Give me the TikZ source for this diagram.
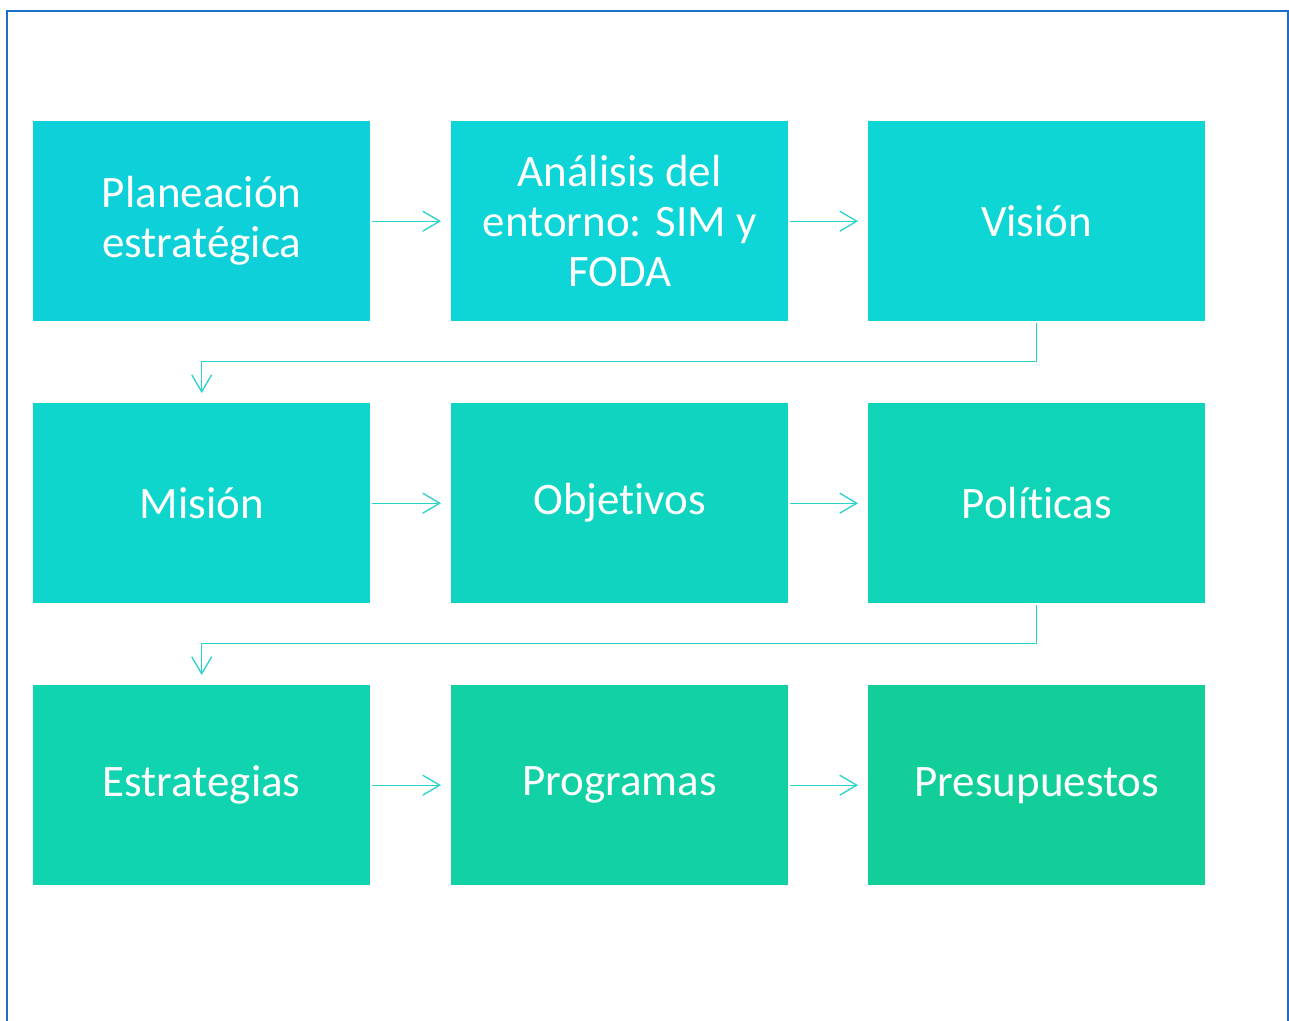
\documentclass[tikz,border=0pt]{standalone}
\usepackage{fontspec}
\setmainfont{Carlito}[RawFeature={-liga;-clig;-dlig;-calt}]
\usetikzlibrary{arrows.meta,positioning}
\definecolor{frameblue}{RGB}{27,111,200}
\definecolor{lnk}{RGB}{40,210,205}
\definecolor{cA}{RGB}{13,208,217}
\definecolor{cB}{RGB}{13,213,216}
\definecolor{cC}{RGB}{14,214,212}
\definecolor{cD}{RGB}{14,214,204}
\definecolor{cE}{RGB}{15,213,192}
\definecolor{cF}{RGB}{16,212,183}
\definecolor{cG}{RGB}{16,211,175}
\definecolor{cH}{RGB}{17,209,165}
\definecolor{cI}{RGB}{18,207,154}
\tikzset{
  x=1pt,y=-1pt,
  box/.style={fill=#1,draw=none,minimum width=337pt,minimum height=200pt,
    inner xsep=0pt,inner ysep=0pt,anchor=north west,align=center,text=white,
    font=\fontsize{45pt}{50pt}\selectfont},
  link/.style={draw=lnk,line width=1.3pt,
    -{Straight Barb[length=17pt,width=20pt,line width=1.3pt]},
    shorten >=10pt,shorten <=2pt}
}
\begin{document}
\begin{tikzpicture}
\useasboundingbox (0,0) rectangle (1289,1020);
\draw[frameblue,line width=2.2pt] (7,1025) -- (7,11) -- (1288,11) -- (1288,1025);
\node[box=cA] (n1) at (33,121) {Planeación\\estratégica};
\node[box=cB] (n2) at (451,121) {Análisis del\\entorno: SIM y\\FODA};
\node[box=cC] (n3) at (868,121) {Visión};
\node[box=cD] (n4) at (33,403) {Misión};
\node[box=cE] (n5) at (451,403) {Objetivos};
\node[box=cF] (n6) at (868,403) {Políticas};
\node[box=cG] (n7) at (33,685) {Estrategias};
\node[box=cH] (n8) at (451,685) {Programas};
\node[box=cI] (n9) at (868,685) {Presupuestos};
\draw[link] (n1) -- (n2);
\draw[link] (n2) -- (n3);
\draw[link] (n4) -- (n5);
\draw[link] (n5) -- (n6);
\draw[link] (n7) -- (n8);
\draw[link] (n8) -- (n9);
\draw[link] (n3.south) -- ++(0,40) -| (n4.north);
\draw[link] (n6.south) -- ++(0,40) -| (n7.north);
\end{tikzpicture}
\end{document}
